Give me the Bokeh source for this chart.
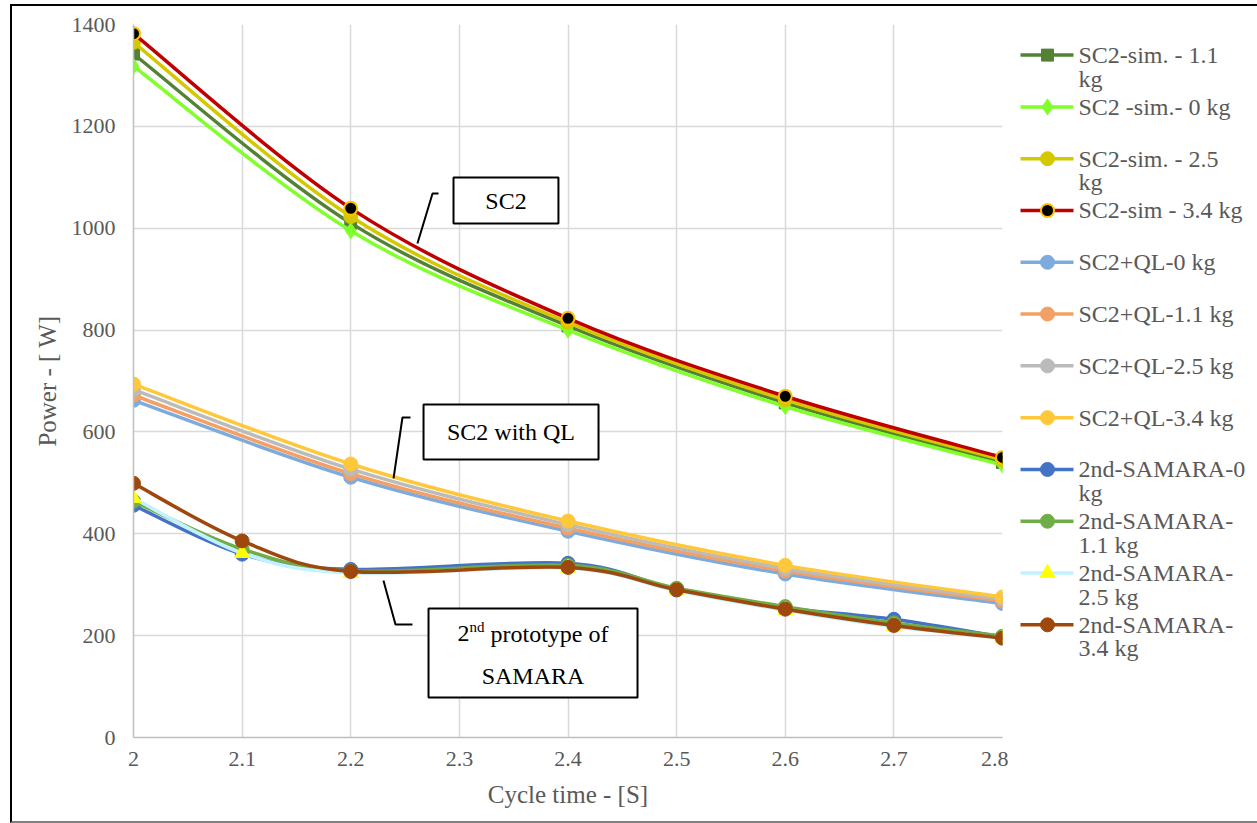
from bokeh.plotting import figure
from bokeh.layouts import row
from bokeh.models import Range1d, FixedTicker, NumeralTickFormatter, ColumnDataSource
from bokeh.core.properties import value
from bokeh.embed import file_html
from bokeh.resources import INLINE

# ---------------- data ----------------
cycle_sc2 = [2.0, 2.2, 2.4, 2.6, 2.8]
cycle_samara = [2.0, 2.1, 2.2, 2.4, 2.5, 2.6, 2.7, 2.8]

sc2_sim_1_1 = [1342, 1010, 808, 657, 540]
sc2_sim_0 = [1318, 995, 800, 650, 535]
sc2_sim_2_5 = [1365, 1023, 815, 663, 545]
sc2_sim_3_4 = [1382, 1039, 823, 670, 550]

sc2_ql_0 = [662, 511, 405, 321, 263]
sc2_ql_1_1 = [672, 518, 411, 327, 268]
sc2_ql_2_5 = [683, 527, 418, 332, 272]
sc2_ql_3_4 = [694, 537, 425, 338, 276]

samara_0 = [456, 360, 330, 342, 290, 255, 232, 197]
samara_1_1 = [464, 370, 327, 338, 293, 257, 225, 199]
samara_2_5 = [470, 362, 323, 333, 288, 250, 218, 195]
samara_3_4 = [499, 386, 326, 334, 290, 252, 220, 195]

series_names = [
    "SC2-sim. - 1.1\nkg",
    "SC2 -sim.- 0 kg",
    "SC2-sim. - 2.5\nkg",
    "SC2-sim - 3.4 kg",
    "SC2+QL-0 kg",
    "SC2+QL-1.1 kg",
    "SC2+QL-2.5 kg",
    "SC2+QL-3.4 kg",
    "2nd-SAMARA-0\nkg",
    "2nd-SAMARA-\n1.1 kg",
    "2nd-SAMARA-\n2.5 kg",
    "2nd-SAMARA-\n3.4 kg",
]

x_ticks = [2.0, 2.1, 2.2, 2.3, 2.4, 2.5, 2.6, 2.7, 2.8]
y_ticks = [0, 200, 400, 600, 800, 1000, 1200, 1400]

x_title = "Cycle time - [S]"
y_title = "Power - [ W]"

# (x, y, line colour, marker, marker fill, marker line, marker size)
styles = [
    (cycle_sc2, sc2_sim_1_1, "#548235", "square", "#548235", "#548235", 12),
    (cycle_sc2, sc2_sim_0, "#80FF2A", "diamond", "#80FF2A", "#80FF2A", 16),
    (cycle_sc2, sc2_sim_2_5, "#D4C800", "circle", "#D4C800", "#D4C800", 14),
    (cycle_sc2, sc2_sim_3_4, "#C00000", "circle", "#000000", "#FFC000", 13),
    (cycle_sc2, sc2_ql_0, "#7DABDE", "circle", "#7DABDE", "#7DABDE", 14),
    (cycle_sc2, sc2_ql_1_1, "#F4A064", "circle", "#F4A064", "#F4A064", 14),
    (cycle_sc2, sc2_ql_2_5, "#BBBBBB", "circle", "#BBBBBB", "#BBBBBB", 14),
    (cycle_sc2, sc2_ql_3_4, "#FFC83A", "circle", "#FFC83A", "#FFC83A", 14),
    (cycle_samara, samara_0, "#4472C4", "circle", "#4472C4", "#4472C4", 14),
    (cycle_samara, samara_1_1, "#70AD47", "circle", "#70AD47", "#70AD47", 14),
    (cycle_samara, samara_2_5, "#C2F2FF", "triangle", "#FFFF00", "#FFFF00", 15),
    (cycle_samara, samara_3_4, "#9E480E", "circle", "#9E480E", "#9E480E", 14),
]

FONT_NAME = "'Liberation Serif', 'Times New Roman', serif"
FONT = value(FONT_NAME)
GRAY_TXT = "#595959"


def smooth_segments(xs, ys):
    """Bezier control points (Catmull-Rom style, like Excel smoothed lines)."""
    n = len(xs)
    d = dict(x0=[], y0=[], x1=[], y1=[], cx0=[], cy0=[], cx1=[], cy1=[])
    for i in range(n - 1):
        a = i - 1 if i > 0 else i
        b = i + 2 if i + 2 < n else i + 1
        d["x0"].append(xs[i]); d["y0"].append(ys[i])
        d["x1"].append(xs[i + 1]); d["y1"].append(ys[i + 1])
        d["cx0"].append(xs[i] + (xs[i + 1] - xs[a]) / 6.0)
        d["cy0"].append(ys[i] + (ys[i + 1] - ys[a]) / 6.0)
        d["cx1"].append(xs[i + 1] - (xs[b] - xs[i]) / 6.0)
        d["cy1"].append(ys[i + 1] - (ys[b] - ys[i]) / 6.0)
    return d


# ---------------- main chart ----------------
p = figure(width=996, height=815, output_backend="svg", toolbar_location=None,
           x_range=Range1d(2.0, 2.8), y_range=Range1d(0, 1400),
           min_border_left=121, min_border_right=6, min_border_top=18,
           min_border_bottom=84)
p.outline_line_color = None
p.background_fill_color = "white"
p.border_fill_color = "white"

p.xaxis.ticker = FixedTicker(ticks=x_ticks)
p.yaxis.ticker = FixedTicker(ticks=y_ticks)
p.xaxis.formatter = NumeralTickFormatter(format="0.[0]")
for ax in (p.xaxis, p.yaxis):
    ax.axis_line_color = "#BFBFBF"
    ax.axis_line_width = 1.5
    ax.major_tick_line_color = None
    ax.minor_tick_line_color = None
    ax.major_tick_out = 0
    ax.major_tick_in = 0
    ax.minor_tick_out = 0
    ax.major_label_text_font = FONT_NAME
    ax.major_label_text_font_size = "22px"
    ax.major_label_text_color = GRAY_TXT
    ax.axis_label_text_font = FONT_NAME
    ax.axis_label_text_font_size = "25px"
    ax.axis_label_text_font_style = "normal"
    ax.axis_label_text_color = GRAY_TXT
p.xaxis.axis_label = x_title
p.yaxis.axis_label = y_title
p.xaxis.major_label_standoff = 14
p.yaxis.major_label_standoff = 18
p.xaxis.axis_label_standoff = 12
p.yaxis.axis_label_standoff = 8

for g in (p.xgrid, p.ygrid):
    g.grid_line_color = "#D9D9D9"
    g.grid_line_width = 1.5

for xs, ys, lc, mk, fc, mlc, sz in styles:
    p.bezier(source=ColumnDataSource(smooth_segments(xs, ys)),
             x0="x0", y0="y0", x1="x1", y1="y1",
             cx0="cx0", cy0="cy0", cx1="cx1", cy1="cy1",
             line_color=lc, line_width=3.5, line_cap="round")
    p.scatter(xs, ys, marker=mk, size=sz, fill_color=fc, line_color=mlc,
              line_width=2 if mlc != fc else 1)

# ---------------- annotations ----------------
box_l = [2.2946, 2.2670, 2.2716]
box_r = [2.3912, 2.4281, 2.4640]
box_t = [1099.6, 653.9, 253.3]
box_b = [1009.3, 545.9, 78.5]
p.quad(left=box_l, right=box_r, top=box_t, bottom=box_b,
       fill_color="white", line_color="black", line_width=2)

leaders = [
    ([2.2614, 2.2753, 2.2808], [970.0, 1068.2, 1068.2]),
    ([2.2394, 2.2476, 2.2550], [508.6, 628.3, 628.3]),
    ([2.2301, 2.2412, 2.2568], [308.3, 221.9, 221.9]),
]
for lx, ly in leaders:
    p.line(lx, ly, line_color="black", line_width=2)

p.text(x=[2.3429, 2.3475], y=[1054.4, 599.9], text=["SC2", "SC2 with QL"],
       text_font=FONT, text_font_size="24px", text_color="black",
       text_align="center", text_baseline="middle")
cx = (2.2716 + 2.4640) / 2
p.text(x=[cx], y=[204.2], text=["2"], x_offset=-75.5, text_font=FONT,
       text_font_size="24px", text_color="black", text_align="left",
       text_baseline="middle")
p.text(x=[cx], y=[204.2], text=["nd"], x_offset=-63.5, y_offset=-7,
       text_font=FONT, text_font_size="15px", text_color="black",
       text_align="left", text_baseline="middle")
p.text(x=[cx], y=[204.2], text=["prototype of"], x_offset=-42.5,
       text_font=FONT, text_font_size="24px", text_color="black",
       text_align="left", text_baseline="middle")
p.text(x=[cx], y=[121.7], text=["SAMARA"], text_font=FONT,
       text_font_size="24px", text_color="black", text_align="center",
       text_baseline="middle")

# ---------------- legend panel ----------------
lg = figure(width=249, height=815, output_backend="svg", toolbar_location=None,
            x_range=Range1d(0, 249), y_range=Range1d(815, 0),
            min_border=0, min_border_left=0, min_border_right=0,
            min_border_top=0, min_border_bottom=0)
lg.axis.visible = False
lg.grid.visible = False
lg.outline_line_color = None
lg.border_fill_color = "white"

tx, ty, tt = [], [], []
for i, ((xs, ys, lc, mk, fc, mlc, sz), name) in enumerate(zip(styles, series_names)):
    yc = 35 + i * 59.2
    lg.segment(x0=[12], y0=[yc], x1=[65], y1=[yc], line_color=lc, line_width=3.5)
    lg.scatter([39], [yc], marker=mk, size=sz, fill_color=fc, line_color=mlc,
               line_width=2 if mlc != fc else 1)
    for k, part in enumerate(name.split("\n")):
        tx.append(70)
        ty.append(yc + k * 27)
        tt.append(part)
lg.text(x=tx, y=ty, text=tt, text_font=FONT, text_font_size="24px",
        text_color=GRAY_TXT, text_align="left", text_baseline="middle")

layout = row(p, lg, styles={"margin-left": "10px", "margin-top": "4px",
                            "border-left": "2px solid #000000",
                            "border-top": "2px solid #000000",
                            "border-bottom": "2px solid #7F7F7F"})

open("out.html", "w").write(file_html(layout, INLINE))
